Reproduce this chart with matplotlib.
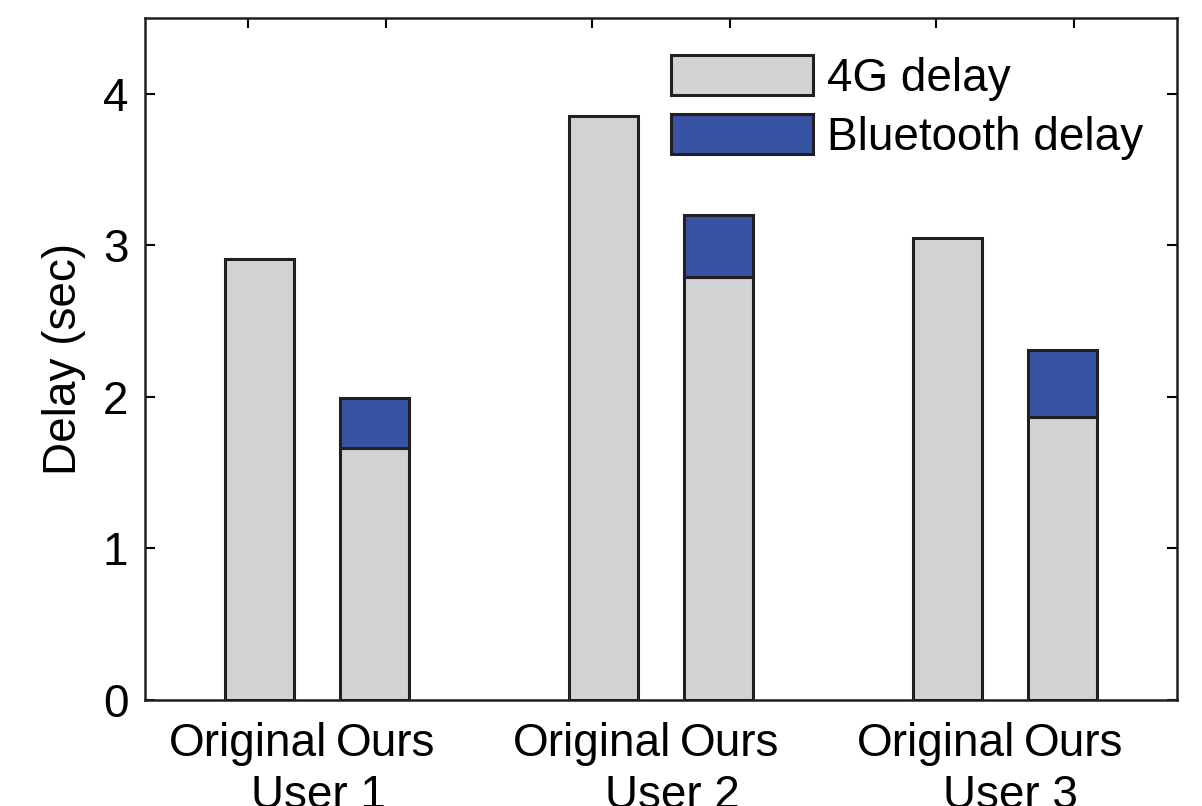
import numpy as np
import matplotlib
matplotlib.use("Agg")
import matplotlib.pyplot as plt
from matplotlib.patches import Patch
from matplotlib.transforms import blended_transform_factory

plt.rcParams['font.family'] = ['Liberation Sans', 'DejaVu Sans']

#####
# Data (seconds)
users = ['User 1', 'User 2', 'User 3']
methods = ['Original', 'Ours']
orig_4g = [2.91, 3.85, 3.05]
ours_4g = [1.66, 2.79, 1.87]
ours_bt = [0.33, 0.41, 0.44]

gray = '#d1d3d4'
blue = '#3753a4'
edge = '#231f20'

# bar positions: two bars per user, a gap between users
orig_x = np.array([1, 4, 7])
ours_x = orig_x + 1
bar_w = 0.6
fs = 33

fig = plt.figure(figsize=(12.02, 8.06), dpi=100)
ax = fig.add_axes([0.1206, 0.1315, 0.8585, 0.8462])

ax.bar(orig_x, orig_4g, bar_w, color=gray, edgecolor=edge, linewidth=2.2, zorder=3)
ax.bar(ours_x, ours_4g, bar_w, color=gray, edgecolor=edge, linewidth=2.2, zorder=3)
ax.bar(ours_x, ours_bt, bar_w, bottom=ours_4g, color=blue, edgecolor=edge,
       linewidth=2.2, zorder=3)

ax.set_xlim(0, 9)
ax.set_ylim(0, 4.5)
ax.set_yticks([0, 1, 2, 3, 4])

# method labels sit a little off the bar centres
label_x = [0.9, 2.1, 3.9, 5.1, 6.9, 8.1]
ax.set_xticks(label_x)
ax.set_xticklabels(methods * 3)
ax.tick_params(axis='x', direction='in', top=True, bottom=False, length=7,
               width=1.5, labelsize=fs, pad=16)
ax.tick_params(axis='y', direction='in', left=True, right=True, length=7,
               width=1.5, labelsize=fs, pad=12)
for s in ax.spines.values():
    s.set_linewidth(1.8)
    s.set_color(edge)

# user names on a second line under each pair
user_x = [1.51, 4.6, 7.55]
tr = blended_transform_factory(ax.transData, ax.transAxes)
for ux, name in zip(user_x, users):
    ax.text(ux, -0.108, name, transform=tr, ha='center', va='top', fontsize=fs)

ax.set_ylabel('Delay (sec)', fontsize=fs, labelpad=12)

handles = [Patch(facecolor=gray, edgecolor=edge, linewidth=2.2),
           Patch(facecolor=blue, edgecolor=edge, linewidth=2.2)]
fig.legend(handles, ['4G delay', 'Bluetooth delay'], loc='upper left',
           bbox_to_anchor=(671 / 1202, 1 - 55 / 806), frameon=False,
           fontsize=fs, handlelength=3.1, handleheight=0.96,
           handletextpad=0.3, labelspacing=0.3, borderpad=0, borderaxespad=0)

fig.savefig('out.png', dpi=100)
